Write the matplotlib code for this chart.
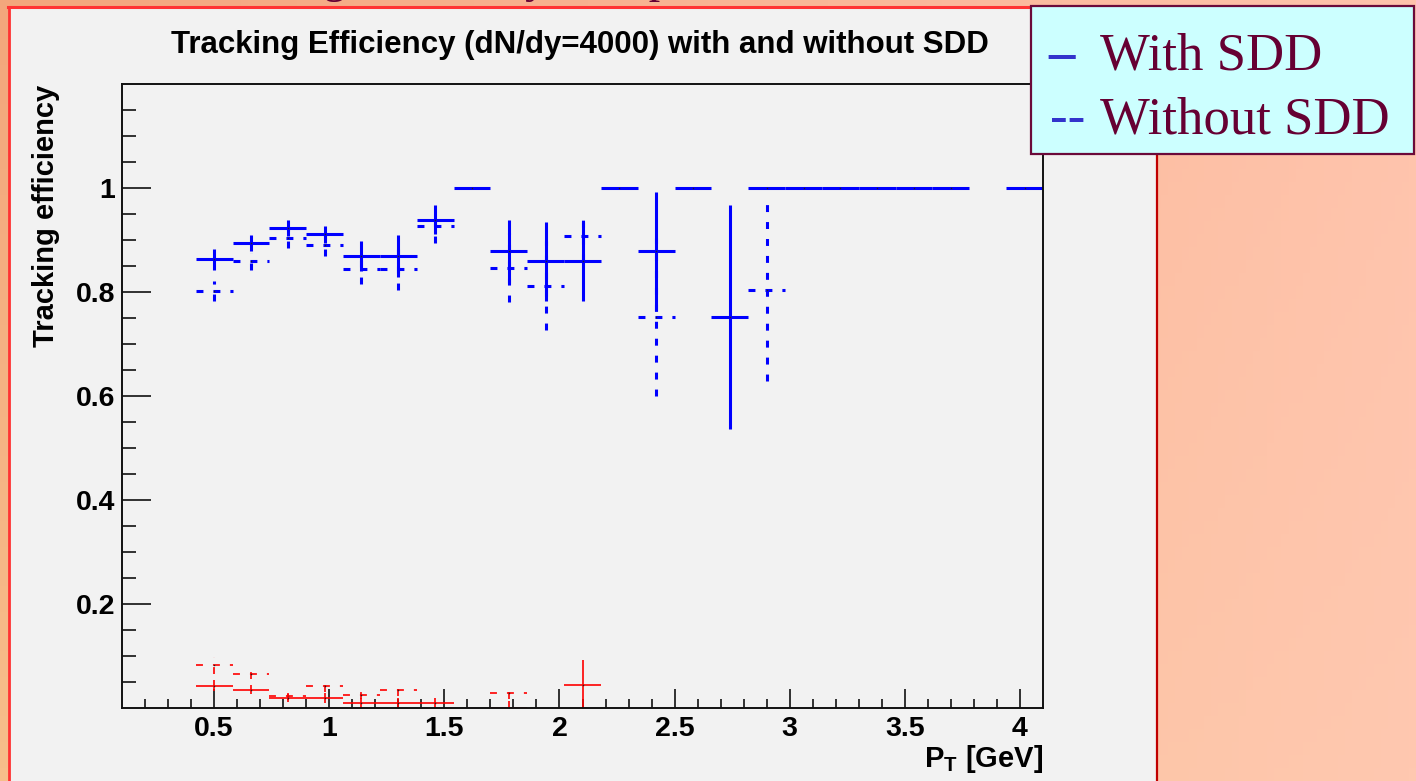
import matplotlib
matplotlib.use("Agg")
import matplotlib.pyplot as plt
import numpy as np
from matplotlib.patches import Rectangle
from matplotlib.lines import Line2D

W, H = 1416, 781

# bin centres are 0.16 wide (0.1 .. 4.1)
HALF_BIN = 0.08

# blue: tracking efficiency with SDD (solid)
eff_sdd_x = [0.50, 0.66, 0.82, 0.98, 1.14, 1.30, 1.46, 1.62, 1.78, 1.94, 2.10,
             2.26, 2.42, 2.58, 2.74, 2.90, 3.06, 3.22, 3.38, 3.54, 3.70, 4.02]
eff_sdd_y = [0.863, 0.894, 0.923, 0.911, 0.869, 0.869, 0.939, 1.0, 0.878, 0.859, 0.859,
             1.0, 0.878, 1.0, 0.752, 1.0, 1.0, 1.0, 1.0, 1.0, 1.0, 1.0]
eff_sdd_err = [0.020, 0.015, 0.016, 0.016, 0.029, 0.041, 0.028, 0.0, 0.060, 0.076, 0.076,
               0.0, 0.115, 0.0, 0.216, 0.0, 0.0, 0.0, 0.0, 0.0, 0.0, 0.0]

# blue: tracking efficiency without SDD (dashed)
eff_nosdd_x = [0.50, 0.66, 0.82, 0.98, 1.14, 1.30, 1.46, 1.78, 1.94, 2.10, 2.42, 2.90]
eff_nosdd_y = [0.802, 0.859, 0.904, 0.891, 0.844, 0.844, 0.926, 0.847, 0.812, 0.907, 0.752, 0.803]
eff_nosdd_err = [0.020, 0.016, 0.019, 0.022, 0.029, 0.041, 0.032, 0.066, 0.086, 0.047, 0.152, 0.175]

# red: fake rate with SDD (solid)
fake_sdd_x = [0.50, 0.66, 0.82, 0.98, 1.14, 1.30, 1.46, 1.78, 2.10]
fake_sdd_y = [0.043, 0.035, 0.019, 0.019, 0.009, 0.009, 0.009, 0.0, 0.045]
fake_sdd_err = [0.011, 0.009, 0.008, 0.009, 0.011, 0.011, 0.011, 0.014, 0.048]

# red: fake rate without SDD (dashed)
fake_nosdd_x = [0.50, 0.66, 0.82, 0.98, 1.14, 1.30, 1.78]
fake_nosdd_y = [0.082, 0.066, 0.024, 0.042, 0.025, 0.034, 0.028]
fake_nosdd_err = [0.016, 0.011, 0.008, 0.012, 0.008, 0.011, 0.010]

x_major = [0.5, 1, 1.5, 2, 2.5, 3, 3.5, 4]
x_major_labels = ["0.5", "1", "1.5", "2", "2.5", "3", "3.5", "4"]
y_major = [0.2, 0.4, 0.6, 0.8, 1.0]
y_major_labels = ["0.2", "0.4", "0.6", "0.8", "1"]

plt.rcParams["font.family"] = ["Liberation Sans", "DejaVu Sans"]
plt.rcParams["mathtext.fontset"] = "custom"
plt.rcParams["mathtext.bf"] = "Liberation Sans:bold"
plt.rcParams["mathtext.rm"] = "Liberation Sans"
plt.rcParams["lines.scale_dashes"] = False

DASH = (0, (5.0, 7.2))
SANS = "Liberation Sans"
SERIF = "Liberation Serif"


def px(x, y):
    return x / W, 1 - y / H


def draw_points(ax, x, y, err, color, lw, ls):
    x = np.asarray(x)
    y = np.asarray(y)
    err = np.asarray(err)
    ax.hlines(y, x - HALF_BIN, x + HALF_BIN, colors=color, linewidths=lw, linestyles=ls)
    has_err = err > 0
    ax.vlines(x[has_err], (y - err)[has_err], (y + err)[has_err],
              colors=color, linewidths=lw, linestyles=ls)
    ax.plot(x, y, ls="none", marker="s", ms=1.0, color="#222222", mew=0)


fig = plt.figure(figsize=(W / 100, H / 100), dpi=100)

# slide background
bg = fig.add_axes([0, 0, 1, 1], zorder=-10)
corners = np.array([[[243, 166, 124], [255, 195, 172]],
                    [[247, 190, 138], [255, 200, 176]]]) / 255.0
t = np.linspace(0, 1, 200)
top = corners[0, 0] + (corners[0, 1] - corners[0, 0]) * t[:, None]
bot = corners[1, 0] + (corners[1, 1] - corners[1, 0]) * t[:, None]
grad = np.stack([top + (bot - top) * s for s in np.linspace(0, 1, 60)])
bg.imshow(grad, aspect="auto", extent=[0, 1, 0, 1], origin="upper")
bg.set_xlim(0, 1)
bg.set_ylim(0, 1)
bg.axis("off")

# slide title, mostly hidden above the picture
fig.text(*px(182, -8), "Tracking Efficiency Comparison", fontsize=33, family=SERIF,
         color="#660033", va="baseline", zorder=-9)

# ROOT canvas
fig.add_artist(Rectangle(px(9, 781), (1157 - 9) / W, (781 - 7) / H,
                         transform=fig.transFigure, facecolor="#F2F2F2",
                         edgecolor="none", zorder=-8))
fig.add_artist(Line2D([9 / W, 9 / W], [0, 1 - 7 / H], transform=fig.transFigure,
                      color="#FF3333", lw=2, zorder=-7))
fig.add_artist(Line2D([8 / W, 1157 / W], [1 - 7 / H, 1 - 7 / H], transform=fig.transFigure,
                      color="#FF3333", lw=2.2, zorder=-7))
fig.add_artist(Line2D([1157 / W, 1157 / W], [0, 1 - 7 / H], transform=fig.transFigure,
                      color="#C00000", lw=1.6, zorder=-7))

ax = fig.add_axes([122 / W, 1 - 708 / H, (1043 - 122) / W, (708 - 84) / H])
ax.set_facecolor("#F2F2F2")
ax.set_xlim(0.1, 4.1)
ax.set_ylim(0, 1.2)

draw_points(ax, eff_nosdd_x, eff_nosdd_y, eff_nosdd_err, "#0000FF", 2.2, DASH)
draw_points(ax, eff_sdd_x, eff_sdd_y, eff_sdd_err, "#0000FF", 2.2, "solid")
draw_points(ax, fake_nosdd_x, fake_nosdd_y, fake_nosdd_err, "#FF0000", 1.2, DASH)
draw_points(ax, fake_sdd_x, fake_sdd_y, fake_sdd_err, "#FF0000", 1.2, "solid")

ax.set_xticks(x_major)
ax.set_xticklabels(x_major_labels)
ax.set_xticks([v / 10 for v in range(2, 41) if v % 5], minor=True)
ax.set_yticks(y_major)
ax.set_yticklabels(y_major_labels)
ax.set_yticks([v / 100 for v in range(5, 120, 5) if v % 20], minor=True)

for side in ["left", "bottom", "top", "right"]:
    ax.spines[side].set_linewidth(1.4)
    ax.spines[side].set_color("#111111")

ax.tick_params(axis="both", which="both", direction="in", width=1.2, color="#111111",
               top=False, right=False)
ax.tick_params(axis="x", which="major", length=13.5, pad=6)
ax.tick_params(axis="x", which="minor", length=6.5)
ax.tick_params(axis="y", which="major", length=21, pad=5)
ax.tick_params(axis="y", which="minor", length=10)
for lab in ax.get_xticklabels() + ax.get_yticklabels():
    lab.set_fontsize(20.5)
    lab.set_fontweight("bold")
    lab.set_family(SANS)

fig.text(*px(580, 53), "Tracking Efficiency (dN/dy=4000) with and without SDD",
         fontsize=22.5, fontweight="bold", ha="center", va="baseline")
fig.text(*px(46, 85), "Tracking efficiency", fontsize=21, fontweight="bold",
         rotation=90, ha="center", va="top")
fig.text(*px(1043, 767), r"$\mathbf{P_{T}}$ [GeV]", fontsize=21, fontweight="bold",
         ha="right", va="baseline")

# legend box of the slide
fig.add_artist(Rectangle(px(1031, 154), (1414 - 1031) / W, (154 - 6) / H,
                         transform=fig.transFigure, facecolor="#CCFFFF",
                         edgecolor="#6B0A3A", lw=1.6, zorder=5))
fig.text(*px(1048, 70), "\u2013", fontsize=38, family=SERIF, fontweight="bold",
         color="#3333CC", zorder=6)
fig.text(*px(1100, 70), "With SDD", fontsize=38, family=SERIF, color="#660033", zorder=6)
fig.text(*px(1050, 133), "--", fontsize=38, family=SERIF, color="#3333CC", zorder=6)
fig.text(*px(1100, 133), "Without SDD", fontsize=38, family=SERIF, color="#660033", zorder=6)

fig.savefig("out.png", dpi=100)
